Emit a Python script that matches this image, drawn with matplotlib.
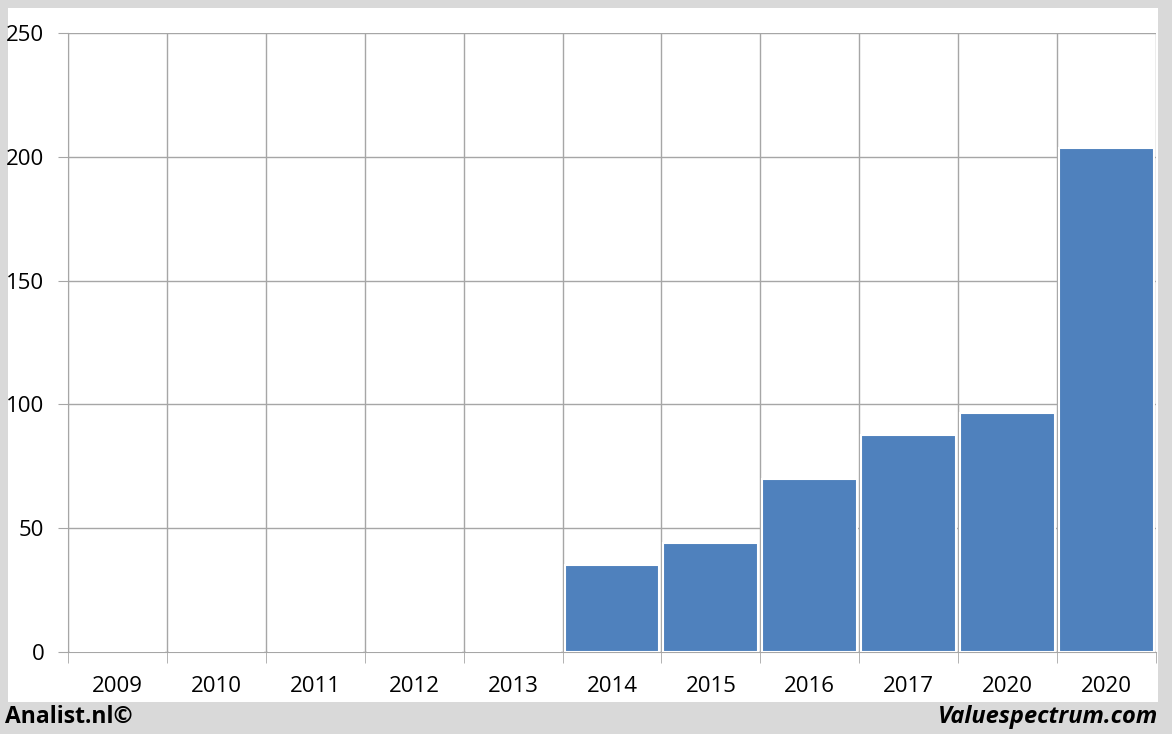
import matplotlib.pyplot as plt
from matplotlib.patches import Rectangle
import numpy as np

# datos del grafico
jaren = ['2009', '2010', '2011', '2012', '2013', '2014', '2015', '2016', '2017', '2020', '2020']
waarden = [0, 0, 0, 0, 0, 35.1, 44.0, 69.9, 87.6, 96.5, 203.5]
y_ticks = [0, 50, 100, 150, 200, 250]

plt.rcParams['font.family'] = ['Open Sans', 'DejaVu Sans']

W, H = 1172, 734
fig = plt.figure(figsize=(W / 100, H / 100), dpi=100)
fig.patch.set_facecolor('#d9d9d9')

# panel blanco
fig.patches.append(Rectangle((8 / W, 32 / H), 1150 / W, 694 / H, transform=fig.transFigure,
                             facecolor='white', edgecolor='none', zorder=-5))

ax = fig.add_axes([68 / W, (H - 652) / H, (1156 - 68) / W, (652 - 33) / H])
ax.set_facecolor('white')
ax.set_zorder(2)

x = np.arange(len(jaren))
ax.bar(x, waarden, width=0.96, color='#4f81bd', edgecolor='white', linewidth=1.5, zorder=3)

ax.set_xlim(-0.5, len(jaren) - 0.5)
ax.set_ylim(0, 250)
ax.set_yticks(y_ticks)
ax.set_yticklabels([str(v) for v in y_ticks], fontsize=16)
ax.yaxis.grid(True, color='#a6a6a6', linewidth=1, zorder=0)

# lineas verticales entre categorias
for b in np.arange(-0.5, len(jaren), 1):
    ax.axvline(b, color='#a6a6a6', linewidth=1, zorder=1)

ax.set_xticks(x)
ax.set_xticklabels(jaren, fontsize=16)
ax.tick_params(axis='x', length=0, pad=17)
ax.tick_params(axis='y', length=7, color='#a6a6a6', pad=10)
# ticks pequeños en los bordes de las categorias
ax.set_xticks(np.arange(-0.5, len(jaren), 1), minor=True)
ax.tick_params(axis='x', which='minor', length=8, color='#a6a6a6')

for s in ['top', 'right']:
    ax.spines[s].set_visible(False)
ax.spines['left'].set_color('#a6a6a6')
ax.spines['bottom'].set_color('#a6a6a6')

fig.text(5 / W, 1 - 717 / H, 'Analist.nl©', fontsize=16.5, fontweight='bold',
         va='center', ha='left')
fig.text(1158 / W, 1 - 717 / H, 'Valuespectrum.com', fontsize=17, fontweight='bold', style='italic',
         va='center', ha='right')

fig.savefig('out.png', dpi=100, facecolor=fig.get_facecolor())
